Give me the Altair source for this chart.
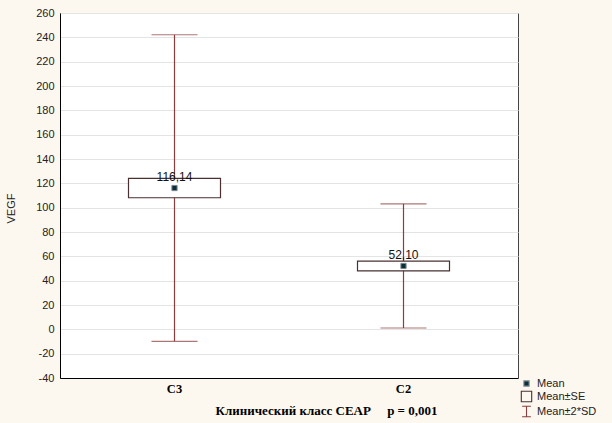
import altair as alt
import pandas as pd

groups = ["C3", "C2"]
means = [116.14, 52.10]
se = [8.0, 4.0]
sd = [63.0, 25.5]
mean_labels = ["116,14", "52,10"]
y_ticks = list(range(-40, 261, 20))
legend_items = ["Mean", "Mean±SE", "Mean±2*SD"]

df = pd.DataFrame({"group": groups, "mean": means, "se": se, "sd": sd, "label": mean_labels})
df["se_lo"] = df["mean"] - df["se"]
df["se_hi"] = df["mean"] + df["se"]
df["sd_lo"] = df["mean"] - 2 * df["sd"]
df["sd_hi"] = df["mean"] + 2 * df["sd"]
df["k"] = "Mean"

whisker_col = "#8b3d3d"
box_col = "#4a3030"
nb = "\u00a0"

x_scale = alt.Scale(domain=groups, paddingInner=0, paddingOuter=0)
x_axis = alt.Axis(
    title="Клинический класс CEAP" + nb * 5 + "p = 0,001",
    labelFont="Liberation Serif", labelFontSize=12.5, labelFontWeight="bold",
    labelColor="#000", labelAngle=0, labelPadding=4,
    titleFont="Liberation Serif", titleFontSize=13, titleFontWeight="bold",
    titleColor="#000", titleX=266, titleY=36, titleAlign="center",
    titleBaseline="alphabetic",
    ticks=False, domainColor="#000", grid=False,
)
y_scale = alt.Scale(domain=[-40, 260], nice=False, zero=False)
y_axis = alt.Axis(
    values=y_ticks, title="VEGF", labelOverlap=False, tickCount=16,
    labelExpr="'' + datum.value",
    labelFont="Liberation Sans", labelFontSize=11, labelColor="#222",
    titleFont="Liberation Sans", titleFontSize=11, titleFontWeight="normal",
    titleColor="#222", titleX=-44, titleY=195,
    ticks=False, labelPadding=6, domainColor="#000",
    grid=True, gridColor="#e4e4e4",
)


def X():
    return alt.X("group:N", sort=groups, scale=x_scale, axis=x_axis)


def Y(field):
    return alt.Y(field, scale=y_scale, axis=y_axis)


base = alt.Chart(df)

rule = base.mark_rule(color=whisker_col, strokeWidth=1.2).encode(
    x=X(), y=Y("sd_lo:Q"), y2="sd_hi:Q"
)
cap_lo = base.mark_tick(color=whisker_col, size=46, thickness=1.2, orient="horizontal").encode(
    x=X(), y=Y("sd_lo:Q")
)
cap_hi = base.mark_tick(color=whisker_col, size=46, thickness=1.2, orient="horizontal").encode(
    x=X(), y=Y("sd_hi:Q")
)
box = base.mark_bar(width=92, fill="white", stroke=box_col, strokeWidth=1.2).encode(
    x=X(), y=Y("se_lo:Q"), y2="se_hi:Q"
)

leg = alt.Legend(
    title=None, orient="none", legendX=461, legendY=365,
    labelFont="Liberation Sans", labelFontSize=11, labelColor="#222",
    symbolSize=64, rowPadding=0, symbolStrokeWidth=1.1, padding=0,
    labelOffset=5,
)
mean_pt = base.mark_point(size=64, filled=False, strokeWidth=1, opacity=1).encode(
    x=X(),
    y=Y("mean:Q"),
    shape=alt.Shape(
        "k:N",
        scale=alt.Scale(
            domain=legend_items,
            range=[
                "M-0.65,-0.65H0.65V0.65H-0.65Z",
                "M-1.3,-1.3H1.3V1.3H-1.3Z",
                "M-1.1,-1.3H1.1M0,-1.3V1.3M-1.1,1.3H1.1",
            ],
        ),
        legend=leg,
    ),
    fill=alt.Fill(
        "k:N",
        scale=alt.Scale(domain=legend_items, range=["#0d2f3a", "transparent", "transparent"]),
        legend=leg,
    ),
    stroke=alt.Stroke(
        "k:N",
        scale=alt.Scale(domain=legend_items, range=["#7a8a90", box_col, whisker_col]),
        legend=leg,
    ),
)
text = base.mark_text(
    font="Liberation Sans", fontSize=12, color="#111", baseline="alphabetic", dy=-7
).encode(x=X(), y=Y("mean:Q"), text="label:N")

chart = (
    alt.layer(rule, cap_lo, cap_hi, box, mean_pt, text)
    .properties(
        width=458, height=365,
        autosize=alt.AutoSizeParams(type="none"),
        padding={"left": 60, "top": 13, "right": 94, "bottom": 45},
        background="#fdf8ef",
    )
    .configure_view(fill="white", stroke="#444", strokeWidth=1)
)

chart.save("out.html", embed_options={"renderer": "svg", "actions": False})
